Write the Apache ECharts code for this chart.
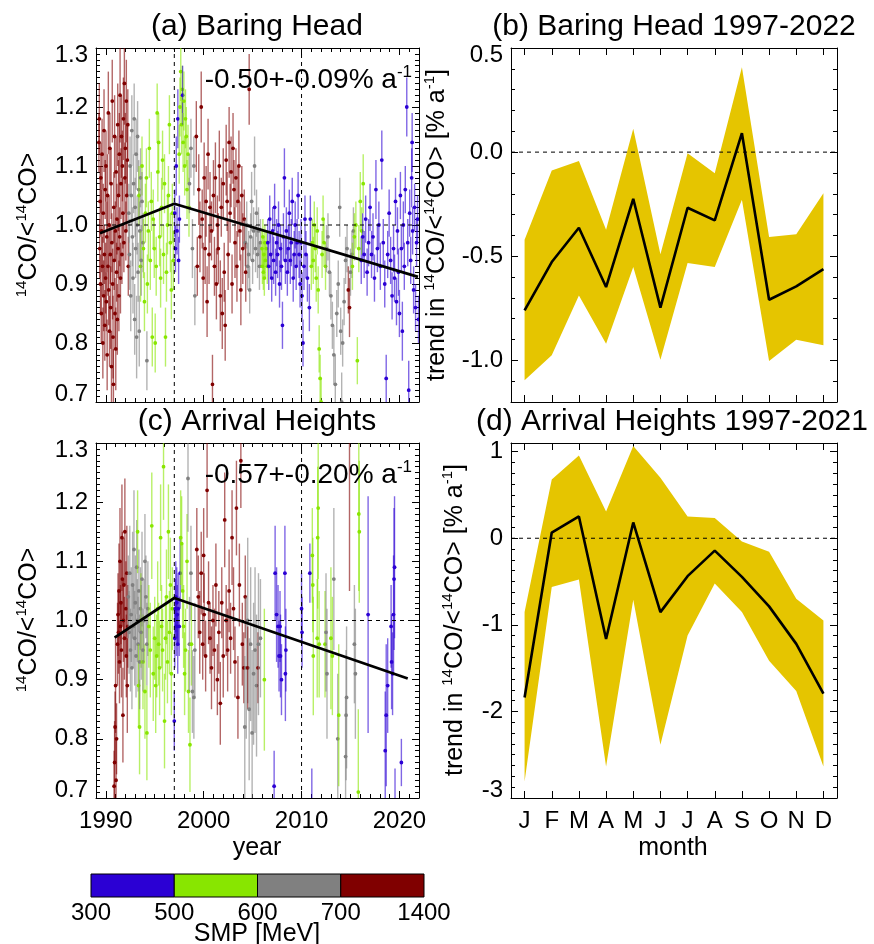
<!DOCTYPE html>
<html><head><meta charset="utf-8">
<script src="https://cdn.jsdelivr.net/npm/echarts@6/dist/echarts.min.js"></script>
<style>html,body{margin:0;padding:0;background:#fff}#c{width:874px;height:944px}</style>
</head><body><div id="c"></div>
<script>
// ---------- DATA ----------
const smpTicks = ['300', '500', '600', '700', '1400'];
const smpColors = ['#2b00d4', '#88e600', '#808080', '#800000']; // 300-500, 500-600, 600-700, 700-1400
const yearTicks = [1990, 2000, 2010, 2020];
const ratioTicks = [0.7, 0.8, 0.9, 1.0, 1.1, 1.2, 1.3];
const bhTrendTicks = [-1.0, -0.5, 0.0, 0.5];
const ahTrendTicks = [-3, -2, -1, 0, 1];
const months = ['J', 'F', 'M', 'A', 'M', 'J', 'J', 'A', 'S', 'O', 'N', 'D'];
const refYears = [1997, 2010];

// Baring Head: [year, ratio, error]
const bhBlue = [[1997.05,1.02,0.04],[1997.12,0.96,0.04],[1997.20,1.10,0.05],[1997.28,0.99,0.04],[1997.36,1.18,0.05],[1997.44,0.94,0.04],[1997.52,1.01,0.04],[1997.85,1.22,0.05],
 [2006.55,0.97,0.04],[2006.65,0.93,0.04],[2006.75,1.01,0.04],[2006.85,0.95,0.04],[2006.95,0.91,0.04],[2007.05,0.99,0.04],[2007.15,0.94,0.04],[2007.25,1.03,0.04],[2007.35,0.92,0.04],[2007.45,0.97,0.04],[2007.55,0.95,0.04],[2007.65,1.00,0.04],[2007.75,0.90,0.04],[2007.85,0.96,0.04],[2007.95,0.93,0.04],[2008.05,0.83,0.04],[2008.15,0.98,0.04],[2008.25,1.08,0.05],[2008.35,0.94,0.04],[2008.45,0.99,0.04],[2008.55,0.92,0.04],[2008.65,0.96,0.04],[2008.75,1.02,0.04],[2008.85,0.94,0.04],[2008.95,0.97,0.04],[2009.05,1.04,0.04],[2009.15,0.91,0.04],[2009.25,0.95,0.04],[2009.35,1.00,0.04],[2009.45,0.93,0.04],[2009.55,0.97,0.04],[2009.65,1.05,0.04],[2009.75,0.95,0.04],[2009.85,0.90,0.04],[2009.95,0.97,0.04],[2010.05,0.88,0.04],[2010.15,0.80,0.04],[2010.25,0.93,0.04],[2010.35,1.01,0.04],[2010.45,0.95,0.04],[2010.60,0.91,0.04],[2010.80,0.86,0.04],[2010.90,1.01,0.04],
 [2016.10,0.94,0.04],[2016.25,0.98,0.04],[2016.40,0.95,0.04],[2016.55,1.01,0.04],[2016.70,0.92,0.04],[2016.85,0.97,0.04],[2017.00,1.03,0.04],[2017.15,0.95,0.04],[2017.30,0.98,0.04],[2017.45,0.91,0.04],[2017.60,1.06,0.05],[2017.75,0.96,0.04],[2017.90,1.00,0.04],[2018.05,0.93,0.04],[2018.20,1.11,0.05],[2018.35,0.97,0.04],[2018.50,0.90,0.04],[2018.65,0.74,0.04],[2018.80,0.95,0.04],[2018.95,1.02,0.04],[2019.10,0.94,0.04],[2019.25,0.88,0.04],[2019.40,0.96,0.04],[2019.50,0.91,0.04],[2019.60,1.04,0.04],[2019.70,0.87,0.04],[2019.80,0.99,0.04],[2019.90,0.92,0.04],[2020.00,0.85,0.04],[2020.10,1.05,0.04],[2020.20,0.96,0.04],[2020.30,0.82,0.05],[2020.40,1.00,0.04],[2020.50,0.93,0.04],[2020.60,1.06,0.04],[2020.75,1.20,0.05],[2020.85,0.97,0.04],[2020.95,0.72,0.05],[2021.05,1.02,0.04],[2021.15,0.94,0.04],[2021.25,1.08,0.05],[2021.30,1.14,0.05],[2021.35,0.99,0.04],[2021.45,0.89,0.04],[2021.55,1.03,0.04],[2021.65,0.86,0.04],[2021.75,0.97,0.04],[2021.85,1.01,0.04],[2021.95,0.84,0.04]];
const bhGreen = [[1993.40,1.05,0.05],[1993.55,0.93,0.06],[1993.70,1.10,0.05],[1993.85,0.96,0.05],[1993.95,0.87,0.05],[1994.05,1.02,0.05],[1994.15,1.08,0.05],[1994.25,0.90,0.05],[1994.35,0.99,0.05],[1994.45,1.13,0.05],[1994.55,0.94,0.05],[1994.65,1.04,0.05],[1994.75,0.81,0.05],[1994.85,1.01,0.05],[1994.95,0.96,0.05],[1995.05,0.80,0.05],[1995.15,0.93,0.05],[1995.25,1.19,0.05],[1995.32,1.09,0.05],[1995.40,1.14,0.05],[1995.50,0.98,0.05],[1995.60,0.91,0.05],[1995.70,1.03,0.05],[1995.80,1.11,0.05],[1995.90,0.95,0.05],[1996.00,1.07,0.05],[1996.10,0.81,0.05],[1996.20,0.92,0.05],[1996.30,1.00,0.05],[1996.40,1.05,0.05],[1996.50,1.17,0.05],[1996.60,0.97,0.05],[1996.70,0.89,0.05],[1996.80,1.02,0.05],[1996.90,0.94,0.05],
 [1997.50,1.12,0.05],[1997.58,1.20,0.05],[1997.66,1.26,0.05],[1997.74,1.17,0.05],[1997.82,1.23,0.04],[1997.90,1.14,0.05],[1997.98,1.21,0.05],[1998.06,1.10,0.05],[1998.14,1.18,0.05],[1998.22,1.15,0.05],[1998.30,1.06,0.05],[1998.40,1.12,0.05],[1998.50,1.03,0.05],
 [2005.95,0.96,0.03],[2006.00,0.93,0.03],[2006.05,0.98,0.03],[2006.10,0.92,0.03],[2006.15,0.95,0.03],[2006.20,0.91,0.03],[2006.25,0.97,0.03],[2006.30,0.94,0.03],[2006.40,0.96,0.03],[2006.50,0.93,0.03],
 [2011.00,0.93,0.04],[2011.10,0.97,0.04],[2011.20,0.94,0.04],[2011.30,1.00,0.04],[2011.40,0.96,0.04],[2011.50,0.91,0.04],[2011.60,0.99,0.04],[2011.70,0.89,0.04],[2011.80,0.79,0.04],[2011.90,0.74,0.04],[2012.00,0.70,0.04],[2012.10,0.95,0.04],[2012.20,1.01,0.04],[2012.30,0.97,0.04],[2012.45,0.93,0.04],
 [2015.20,0.93,0.04],[2015.40,0.98,0.04],[2015.55,1.00,0.04],[2015.70,0.77,0.04],[2015.85,0.96,0.04],[2016.00,1.04,0.05],[2016.15,0.99,0.04],[2016.30,1.07,0.05]];
const bhGrey = [[1992.35,1.02,0.05],[1992.42,0.95,0.06],[1992.48,1.10,0.05],[1992.55,0.88,0.06],[1992.60,1.05,0.05],[1992.66,1.16,0.06],[1992.72,0.98,0.05],[1992.78,0.91,0.06],[1992.84,1.07,0.05],[1992.90,1.18,0.06],[1992.95,0.84,0.06],[1993.00,1.03,0.05],[1993.05,0.96,0.05],[1993.10,1.12,0.06],[1993.15,0.81,0.07],[1993.20,1.00,0.05],[1993.25,1.15,0.06],[1993.30,0.92,0.05],[1993.36,1.06,0.05],[1993.42,0.82,0.06],[1993.48,0.99,0.05],[1993.55,1.08,0.05],[1993.62,0.94,0.06],[1993.70,1.04,0.05],[1993.80,0.97,0.05],[1994.20,0.77,0.05],
 [1998.55,1.07,0.05],[1998.70,1.13,0.05],[1998.85,0.96,0.05],[1999.00,1.10,0.05],[1999.10,0.88,0.05],
 [2004.25,0.97,0.04],[2004.40,1.00,0.04],[2004.50,0.93,0.04],[2004.60,0.95,0.04],[2004.70,0.89,0.04],[2004.80,0.98,0.04],[2004.90,1.04,0.05],[2005.00,0.94,0.04],[2005.10,0.99,0.04],[2005.20,1.10,0.05],[2005.30,0.96,0.04],[2005.40,1.02,0.04],[2005.50,0.95,0.04],[2005.60,0.99,0.04],[2005.70,0.93,0.04],[2005.80,0.97,0.04],
 [2012.55,0.96,0.04],[2012.70,0.98,0.04],[2012.85,0.92,0.04],[2013.00,0.88,0.04],[2013.15,0.83,0.04],[2013.30,0.78,0.05],[2013.45,0.73,0.05],[2013.60,0.85,0.04],[2013.75,0.90,0.04],[2013.90,1.03,0.05],[2014.00,0.82,0.04],[2014.10,0.70,0.05],[2014.20,0.80,0.04],[2014.35,0.87,0.04],[2014.50,0.94,0.04],[2014.65,0.96,0.04],[2015.00,0.92,0.04],[2015.15,0.95,0.04],[2015.30,0.99,0.04]];
const bhRed = [[1989.30,1.14,0.05],[1989.34,1.18,0.06],[1989.38,0.96,0.05],[1989.42,1.04,0.06],[1989.46,0.90,0.05],[1989.50,1.08,0.06],[1989.54,0.85,0.05],[1989.58,0.99,0.07],[1989.62,1.12,0.06],[1989.66,0.93,0.05],[1989.70,0.80,0.06],[1989.74,1.02,0.05],[1989.78,0.88,0.06],[1989.82,1.16,0.07],[1989.86,0.95,0.05],[1989.90,0.83,0.06],[1989.94,1.06,0.05],[1989.98,0.91,0.06],[1990.02,1.10,0.06],[1990.06,0.87,0.05],[1990.10,0.98,0.06],[1990.14,0.78,0.06],[1990.18,1.05,0.07],[1990.22,0.93,0.05],[1990.26,1.19,0.07],[1990.30,0.89,0.06],[1990.34,1.00,0.05],[1990.38,0.82,0.06],[1990.42,1.13,0.06],[1990.46,0.95,0.05],[1990.50,0.86,0.07],[1990.54,1.07,0.06],[1990.58,0.76,0.06],[1990.62,0.97,0.05],[1990.66,1.21,0.07],[1990.70,0.90,0.06],[1990.74,0.81,0.07],[1990.78,0.73,0.06],[1990.82,1.03,0.06],[1990.86,0.94,0.05],[1990.90,1.15,0.07],[1990.94,0.85,0.06],[1990.98,0.99,0.05],[1991.02,0.79,0.07],[1991.06,1.09,0.06],[1991.10,0.92,0.05],[1991.14,1.01,0.06],[1991.18,0.84,0.06],[1991.22,1.17,0.07],[1991.26,0.96,0.05],[1991.30,1.05,0.06],[1991.34,0.88,0.06],[1991.38,1.12,0.07],[1991.42,0.98,0.05],[1991.46,1.22,0.08],[1991.50,0.91,0.06],[1991.55,1.07,0.06],[1991.60,1.15,0.07],[1991.65,0.95,0.05],[1991.70,1.10,0.06],[1991.75,1.02,0.06],[1991.80,1.18,0.07],[1991.85,0.97,0.05],[1991.90,1.24,0.07],[1991.95,1.08,0.06],[1992.00,1.13,0.06],[1992.05,0.99,0.05],[1992.10,1.21,0.07],[1992.15,1.05,0.06],[1992.20,1.11,0.06],[1992.25,1.17,0.06],[1992.30,0.93,0.05],
 [1999.25,1.15,0.06],[1999.35,0.93,0.05],[1999.50,1.06,0.06],[1999.62,0.98,0.06],[1999.75,1.20,0.06],[1999.85,1.01,0.05],[1999.95,0.91,0.06],[2000.05,1.08,0.06],[2000.15,0.96,0.06],[2000.25,1.04,0.06],[2000.35,0.87,0.06],[2000.45,1.12,0.06],[2000.55,0.95,0.05],[2000.65,1.03,0.06],[2000.80,0.99,0.05],[2000.90,0.73,0.05],[2001.00,1.05,0.06],[2001.10,0.93,0.05],[2001.20,1.08,0.06],[2001.30,0.90,0.06],[2001.40,1.00,0.05],[2001.50,0.96,0.06],[2001.60,1.10,0.06],[2001.70,0.88,0.06],[2001.80,1.03,0.05],[2001.90,0.85,0.06],[2002.00,1.07,0.06],[2002.10,0.92,0.05],[2002.20,0.83,0.06],[2002.30,1.11,0.06],[2002.40,1.04,0.05],[2002.50,0.95,0.06],[2002.60,1.14,0.06],[2002.70,1.02,0.05],[2002.80,1.09,0.06],[2002.90,0.90,0.05],[2003.00,1.13,0.06],[2003.10,1.06,0.05],[2003.20,0.97,0.06],[2003.30,1.08,0.05],[2003.40,0.93,0.06],[2003.50,1.04,0.06],[2003.60,1.10,0.06],[2003.70,0.99,0.05],[2003.80,0.89,0.06],[2003.90,1.05,0.05],[2004.00,0.96,0.06],[2004.15,1.01,0.05],[2004.30,0.92,0.05],[2004.65,1.23,0.06],
 [2014.78,0.89,0.04],[2014.90,0.86,0.05]];

// Arrival Heights: [year, ratio, error]
const ahBlue = [[1997.00,0.83,0.05],[1997.05,0.97,0.05],[1997.10,1.02,0.05],[1997.15,1.04,0.06],[1997.20,0.99,0.05],[1997.25,1.03,0.06],[1997.30,1.01,0.05],[1997.35,0.96,0.05],[1997.40,1.02,0.06],[1997.50,0.99,0.05],[1997.60,1.08,0.06],
 [2007.20,0.72,0.06],[2007.30,1.08,0.08],[2007.45,1.01,0.08],[2007.60,0.99,0.07],[2007.70,0.94,0.06],[2007.80,0.99,0.06],[2007.85,0.94,0.07],[2007.95,0.90,0.06],[2008.30,1.08,0.08],[2008.35,0.91,0.08],[2008.40,0.95,0.07],[2010.00,1.02,0.06],[2010.05,0.98,0.06],[2010.85,1.08,0.05],[2011.05,0.66,0.09],
 [2016.80,1.01,0.20],[2018.55,0.78,0.10],[2018.65,0.84,0.12],[2018.80,0.89,0.08],[2019.15,0.99,0.07],[2019.20,0.93,0.08],[2019.30,0.91,0.07],[2019.40,1.01,0.10],[2019.45,1.07,0.12],[2019.50,1.09,0.12],[2019.55,0.69,0.06],[2020.20,0.76,0.04]];
const ahGreen = [[1993.25,1.15,0.07],[1993.35,0.89,0.07],[1993.45,0.82,0.08],[1993.60,1.00,0.08],[1993.80,0.93,0.08],[1994.00,0.88,0.08],[1994.20,0.81,0.08],[1994.40,0.99,0.07],[1994.55,0.95,0.08],[1994.70,1.16,0.09],[1994.85,0.91,0.08],[1995.00,0.97,0.07],[1995.10,0.89,0.08],[1995.20,0.94,0.07],[1995.30,1.02,0.08],[1995.40,0.96,0.07],[1995.50,0.92,0.08],[1995.60,1.14,0.09],[1995.70,0.99,0.07],[1995.80,0.95,0.07],[1995.90,1.26,0.09],[1996.00,0.83,0.08],[1996.10,0.97,0.07],[1996.20,1.04,0.08],[1996.30,0.93,0.07],[1996.40,1.15,0.08],[1996.50,0.98,0.07],[1996.60,1.06,0.08],[1996.70,0.91,0.07],[1996.80,1.02,0.07],
 [1997.65,1.14,0.08],[1997.75,1.13,0.08],[1997.85,1.05,0.08],[1997.95,0.99,0.07],[1998.05,0.91,0.07],[1998.15,0.95,0.07],[1998.30,1.10,0.08],[1998.45,0.88,0.07],[1998.60,0.79,0.08],[1998.75,0.96,0.07],
 [2006.20,0.90,0.12],
 [2011.10,1.11,0.08],[2011.15,1.06,0.08],[2011.20,0.94,0.10],[2011.60,0.97,0.10],[2011.65,1.14,0.12],[2011.70,1.19,0.12],[2011.80,0.96,0.09],[2012.40,0.96,0.09],[2013.00,0.97,0.12],[2013.15,0.94,0.10],[2013.80,0.84,0.12],[2015.80,0.71,0.14],[2015.85,1.18,0.13],[2015.90,1.15,0.12]];
const ahGrey = [[1992.30,1.04,0.07],[1992.38,0.98,0.07],[1992.45,1.08,0.08],[1992.52,0.95,0.07],[1992.60,1.01,0.08],[1992.67,0.92,0.07],[1992.74,1.06,0.09],[1992.81,0.99,0.07],[1992.88,1.12,0.10],[1992.95,0.97,0.08],[1993.02,1.03,0.08],[1993.09,0.94,0.07],[1993.16,1.09,0.08],[1993.23,1.00,0.07],[1993.30,0.96,0.08],[1993.38,1.05,0.07],[1993.46,0.93,0.08],[1993.54,1.02,0.07],[1993.62,0.98,0.08],[1993.70,1.07,0.08],[1993.80,0.95,0.07],[1993.90,1.00,0.07],[1994.00,1.10,0.08],[1994.10,1.04,0.07],[1994.20,0.96,0.07],[1994.30,1.02,0.08],
 [1998.40,1.24,0.09],[1998.55,0.96,0.08],[1998.70,1.08,0.08],[1998.85,0.88,0.07],[1999.00,0.87,0.07],[1999.10,0.95,0.08],
 [2004.20,0.82,0.12],[2004.35,0.92,0.12],[2004.50,1.00,0.14],[2004.65,0.85,0.12],[2004.80,0.96,0.13],[2004.95,0.81,0.14],[2005.10,0.91,0.12],[2005.25,0.95,0.14],[2005.40,0.89,0.12],[2005.60,0.96,0.12],[2005.80,0.97,0.10],
 [2012.50,0.98,0.10],[2012.60,0.91,0.11],[2013.30,1.07,0.12],[2013.70,0.80,0.11],[2014.50,0.77,0.10],[2014.55,0.84,0.11],[2014.60,0.87,0.12],[2015.40,0.96,0.10],[2015.50,0.91,0.11]];
const ahRed = [[1990.85,0.72,0.06],[1990.90,0.76,0.07],[1990.95,0.82,0.06],[1991.00,0.89,0.08],[1991.05,0.73,0.07],[1991.10,0.80,0.06],[1991.20,0.96,0.07],[1991.25,1.01,0.07],[1991.30,0.98,0.07],[1991.35,1.05,0.08],[1991.40,0.93,0.07],[1991.45,1.10,0.09],[1991.50,0.99,0.07],[1991.55,1.03,0.07],[1991.60,0.95,0.08],[1991.65,1.14,0.09],[1991.70,1.07,0.08],[1991.75,0.84,0.08],[1991.80,1.00,0.07],[1991.85,1.06,0.08],[1991.90,0.97,0.07],[1991.95,1.15,0.09],[2000.00,1.11,0.08],
 [1992.05,1.02,0.08],[1992.10,0.94,0.07],[1992.15,1.08,0.08],[1992.20,0.89,0.08],[1992.25,0.99,0.07],
 [1999.30,1.12,0.07],[1999.45,1.04,0.07],[1999.60,0.98,0.07],[1999.75,1.08,0.07],[1999.90,0.96,0.06],[2000.05,1.01,0.07],[2000.20,0.94,0.06],[2000.35,1.22,0.08],[2000.50,1.03,0.07],[2000.65,0.97,0.06],[2000.80,0.92,0.07],[2000.95,1.00,0.06],[2001.10,0.95,0.07],[2001.25,1.06,0.07],[2001.40,0.90,0.06],[2001.55,0.98,0.07],[2001.70,0.86,0.07],[2001.85,1.03,0.06],[2002.00,0.94,0.07],[2002.15,1.17,0.08],[2002.30,1.00,0.06],[2002.45,0.95,0.07],[2002.60,1.05,0.07],[2002.75,0.97,0.06],[2002.90,1.14,0.08],[2003.05,1.02,0.07],[2003.20,0.93,0.06],[2003.35,1.19,0.08],[2003.50,0.87,0.07],[2003.65,1.06,0.07],[2003.80,1.27,0.08],[2003.95,0.96,0.07],[2004.10,0.92,0.06],[2004.25,1.04,0.07],[2004.50,0.92,0.07],[2005.55,0.92,0.06],
 [2014.90,1.40,0.35]];

// Trend lines (year, ratio)
const bhTrend = [[1989.4, 0.986], [1997.0, 1.036], [2021.9, 0.912]];
const ahTrend = [[1990.9, 0.971], [1997.0, 1.038], [2020.85, 0.902]];

// Monthly trends [% a-1]
const bhMonthMean  = [-0.76, -0.528, -0.363, -0.648, -0.224, -0.747, -0.267, -0.328, 0.091, -0.709, -0.645, -0.562];
const bhMonthUpper = [-0.421, -0.088, -0.043, -0.373, 0.112, -0.491, -0.005, -0.101, 0.408, -0.408, -0.395, -0.197];
const bhMonthLower = [-1.096, -0.976, -0.688, -0.92, -0.552, -0.997, -0.533, -0.552, -0.229, -1.003, -0.901, -0.928];
const ahMonthMean  = [-1.84, 0.066, 0.252, -1.163, 0.182, -0.853, -0.438, -0.143, -0.446, -0.787, -1.22, -1.795];
const ahMonthUpper = [-0.853, 0.678, 0.957, 0.31, 1.066, 0.698, 0.252, 0.233, -0.039, -0.155, -0.698, -0.95];
const ahMonthLower = [-2.81, -0.562, -0.477, -2.636, -0.709, -2.384, -1.124, -0.523, -0.853, -1.415, -1.764, -2.636];

// ---------- CHART ----------
const FONT = '"Liberation Sans", Arial, Helvetica, sans-serif';
const TICKFS = 24;
const chart = echarts.init(document.getElementById('c'), null, {renderer: 'canvas'});

const grids = [
  {left: 96, top: 48, width: 323, height: 354},
  {left: 511, top: 48, width: 326, height: 354},
  {left: 96, top: 443, width: 323, height: 355},
  {left: 511, top: 443, width: 326, height: 355},
  {left: 91, top: 874, width: 333, height: 23}
];

function steps(a, b, s) { const r = []; const n = Math.round((b - a) / s); for (let i = 0; i <= n; i++) r.push(+(a + i * s).toFixed(5)); return r; }

const richClamp = {
  t: {padding: [15, 0, 0, 0], fontSize: TICKFS, fontFamily: FONT, color: '#000'},
  b: {padding: [0, 0, 15, 0], fontSize: TICKFS, fontFamily: FONT, color: '#000'}
};

function xAxes(gi, min, max, major, minor, labelFmt) {
  const base = {type: 'value', gridIndex: gi, min: min, max: max, splitLine: {show: false}};
  const line = {show: true, onZero: false, lineStyle: {color: '#000', width: 1}};
  return [
    Object.assign({}, base, {position: 'bottom', axisLine: line,
      axisTick: {show: true, inside: true, length: 7, customValues: major, lineStyle: {color: '#000'}},
      axisLabel: labelFmt ? {show: true, customValues: major, formatter: labelFmt, fontSize: TICKFS, fontFamily: FONT, color: '#000', margin: 11} : {show: false}}),
    Object.assign({}, base, {position: 'bottom', axisLine: {show: false},
      axisTick: {show: minor.length > 0, inside: true, length: 4, customValues: minor, lineStyle: {color: '#000'}}, axisLabel: {show: false}}),
    Object.assign({}, base, {position: 'top', axisLine: line,
      axisTick: {show: true, inside: true, length: 7, customValues: major, lineStyle: {color: '#000'}}, axisLabel: {show: false}}),
    Object.assign({}, base, {position: 'top', axisLine: {show: false},
      axisTick: {show: minor.length > 0, inside: true, length: 4, customValues: minor, lineStyle: {color: '#000'}}, axisLabel: {show: false}})
  ];
}
function yAxes(gi, min, max, major, minor, labelFmt) {
  const base = {type: 'value', gridIndex: gi, min: min, max: max, splitLine: {show: false}};
  const line = {show: true, onZero: false, lineStyle: {color: '#000', width: 1}};
  return [
    Object.assign({}, base, {position: 'left', axisLine: line,
      axisTick: {show: true, inside: true, length: 7, customValues: major, lineStyle: {color: '#000'}},
      axisLabel: {show: true, customValues: major, formatter: labelFmt, fontSize: TICKFS, fontFamily: FONT, color: '#000', margin: 8, rich: richClamp}}),
    Object.assign({}, base, {position: 'left', axisLine: {show: false},
      axisTick: {show: true, inside: true, length: 4, customValues: minor, lineStyle: {color: '#000'}}, axisLabel: {show: false}}),
    Object.assign({}, base, {position: 'right', axisLine: line,
      axisTick: {show: true, inside: true, length: 7, customValues: major, lineStyle: {color: '#000'}}, axisLabel: {show: false}}),
    Object.assign({}, base, {position: 'right', axisLine: {show: false},
      axisTick: {show: true, inside: true, length: 4, customValues: minor, lineStyle: {color: '#000'}}, axisLabel: {show: false}})
  ];
}

const yearMinor = steps(1989, 2022, 1);
const monthIdx = months.map((m, i) => i + 1);
function ratioFmt(v) { if (Math.abs(v - 1.3) < 1e-6) return '{t|1.3}'; if (Math.abs(v - 0.7) < 1e-6) return '{b|0.7}'; return v.toFixed(1); }
function bhFmt(v) { if (Math.abs(v - 0.5) < 1e-6) return '{t|0.5}'; return v.toFixed(1); }
function ahFmt(v) { if (Math.abs(v + 3) < 1e-6) return '{b|-3}'; return String(Math.round(v)); }

const xAxis = [].concat(
  xAxes(0, 1989, 2022, yearTicks, yearMinor, null),
  xAxes(1, 0.5, 12.5, monthIdx, [], null),
  xAxes(2, 1989, 2022, yearTicks, yearMinor, v => String(v)),
  xAxes(3, 0.5, 12.5, monthIdx, [], v => months[Math.round(v) - 1]),
  [{type: 'value', gridIndex: 4, min: 0, max: 4, position: 'bottom', splitLine: {show: false}, axisLine: {show: false}, axisTick: {show: false},
    axisLabel: {show: true, customValues: [0, 1, 2, 3, 4], formatter: v => smpTicks[Math.round(v)], fontSize: TICKFS, fontFamily: FONT, color: '#000', margin: 4}}]
);
const yAxis = [].concat(
  yAxes(0, 0.7, 1.3, ratioTicks, steps(0.7, 1.3, 0.01), ratioFmt),
  yAxes(1, -1.2, 0.5, bhTrendTicks, steps(-1.2, 0.5, 0.1), bhFmt),
  yAxes(2, 0.7, 1.3, ratioTicks, steps(0.7, 1.3, 0.01), ratioFmt),
  yAxes(3, -3, 1.1, ahTrendTicks, steps(-3, 1.0, 0.125), ahFmt),
  [{type: 'value', gridIndex: 4, min: 0, max: 1, show: false}]
);

function combine(groups) {
  const out = [];
  groups.forEach((g, ci) => g.forEach(p => out.push([p[0], p[1], p[2], ci])));
  out.sort((a, b) => a[0] - b[0]);
  return out;
}
function errRender(params, api) {
  const x = api.value(0), y = api.value(1), e = api.value(2), ci = api.value(3);
  const c = smpColors[ci];
  const p = api.coord([x, y]), t = api.coord([x, y + e]), b = api.coord([x, y - e]);
  return {type: 'group', children: [
    {type: 'line', shape: {x1: p[0], y1: t[1], x2: p[0], y2: b[1]}, style: {stroke: c, lineWidth: 1.4, opacity: 0.6}},
    {type: 'circle', shape: {cx: p[0], cy: p[1], r: 1.9}, style: {fill: c}}
  ]};
}
function pointSeries(gi, groups) {
  return {type: 'custom', xAxisIndex: gi * 4, yAxisIndex: gi * 4, clip: true, silent: true, z: 2,
    renderItem: errRender, encode: {x: 0, y: 1}, data: combine(groups)};
}
function dashed(gi, pts) {
  return {type: 'line', xAxisIndex: gi * 4, yAxisIndex: gi * 4, data: pts, symbol: 'none', silent: true, z: 3,
    lineStyle: {color: '#000', width: 1, type: [4, 4]}};
}
function solid(gi, pts, w) {
  return {type: 'line', xAxisIndex: gi * 4, yAxisIndex: gi * 4, data: pts, symbol: 'none', silent: true, z: 4,
    lineStyle: {color: '#000', width: w}};
}
function bandSeries(gi, up, lo) {
  return {type: 'custom', xAxisIndex: gi * 4, yAxisIndex: gi * 4, clip: true, silent: true, z: 1,
    data: up.map((u, i) => [i + 1, u, lo[i]]), encode: {x: 0, y: 1},
    renderItem: function (params, api) {
      if (params.dataIndex !== 0) return null;
      const pts = [];
      up.forEach((u, i) => pts.push(api.coord([i + 1, u])));
      for (let i = lo.length - 1; i >= 0; i--) pts.push(api.coord([i + 1, lo[i]]));
      return {type: 'polygon', shape: {points: pts}, style: {fill: '#e5c500'}};
    }};
}

const series = [
  pointSeries(0, [bhBlue, bhGreen, bhGrey, bhRed]),
  dashed(0, [[1989, 1], [2022, 1]]),
  dashed(0, [[refYears[0], 0.7], [refYears[0], 1.3]]),
  dashed(0, [[refYears[1], 0.7], [refYears[1], 1.3]]),
  solid(0, bhTrend, 2.8),
  pointSeries(2, [ahBlue, ahGreen, ahGrey, ahRed]),
  dashed(2, [[1989, 1], [2022, 1]]),
  dashed(2, [[refYears[0], 0.7], [refYears[0], 1.3]]),
  dashed(2, [[refYears[1], 0.7], [refYears[1], 1.3]]),
  solid(2, ahTrend, 2.8),
  bandSeries(1, bhMonthUpper, bhMonthLower),
  dashed(1, [[0.5, 0], [12.5, 0]]),
  solid(1, bhMonthMean.map((v, i) => [i + 1, v]), 2.6),
  bandSeries(3, ahMonthUpper, ahMonthLower),
  dashed(3, [[0.5, 0], [12.5, 0]]),
  solid(3, ahMonthMean.map((v, i) => [i + 1, v]), 2.6),
  {type: 'custom', xAxisIndex: 16, yAxisIndex: 16, silent: true, encode: {x: 0},
    data: smpColors.map((c, i) => [i, i + 1]),
    renderItem: function (params, api) {
      const a = api.coord([api.value(0), 1]), b = api.coord([api.value(1), 0]);
      return {type: 'rect', shape: {x: a[0], y: a[1], width: b[0] - a[0], height: b[1] - a[1]},
        style: {fill: smpColors[params.dataIndex], stroke: '#000', lineWidth: 1}};
    }}
];

function txt(x, y, text, fs, opts) {
  return {type: 'text', x: x, y: y, silent: true, z: 100,
    style: Object.assign({text: text, fontSize: fs, fontFamily: FONT, fill: '#000', align: 'center', verticalAlign: 'middle'}, opts || {})};
}
const supRich = {
  n: {fontSize: 25, fontFamily: FONT, lineHeight: 30, verticalAlign: 'middle'},
  s: {fontSize: 15, fontFamily: FONT, lineHeight: 17, verticalAlign: 'top'}
};
const annRich = {
  n: {fontSize: 28, fontFamily: FONT, lineHeight: 32, verticalAlign: 'middle'},
  s: {fontSize: 17, fontFamily: FONT, lineHeight: 18, verticalAlign: 'top'}
};
function rot(x, y, text) {
  return {type: 'text', x: x, y: y, rotation: Math.PI / 2, silent: true, z: 100,
    style: {text: text, rich: supRich, fontFamily: FONT, fontSize: 25, fill: '#000', align: 'center', verticalAlign: 'middle'}};
}

const graphic = [
  txt(257, 27, '(a) Baring Head', 30),
  txt(674, 27, '(b) Baring Head 1997-2022', 30),
  txt(257, 422, '(c) Arrival Heights', 30),
  txt(672, 422, '(d) Arrival Heights 1997-2021', 30),
  {type: 'text', x: 412, y: 80, silent: true, z: 100, style: {text: '{n|-0.50+-0.09% a}{s|-1}', rich: annRich, fill: '#000', align: 'right', verticalAlign: 'middle'}},
  {type: 'text', x: 412, y: 475, silent: true, z: 100, style: {text: '{n|-0.57+-0.20% a}{s|-1}', rich: annRich, fill: '#000', align: 'right', verticalAlign: 'middle'}},
  rot(29, 225, '{s|14}{n|CO/<}{s|14}{n|CO>}'),
  rot(29, 620, '{s|14}{n|CO/<}{s|14}{n|CO>}'),
  rot(437, 225, '{n|trend in }{s|14}{n|CO/<}{s|14}{n|CO> [% a}{s|-1}{n|]}'),
  rot(455, 620, '{n|trend in }{s|14}{n|CO/<}{s|14}{n|CO> [% a}{s|-1}{n|]}'),
  txt(257, 848, 'year', 25),
  txt(673, 848, 'month', 25),
  txt(257, 934, 'SMP [MeV]', 25)
];

chart.setOption({
  animation: false,
  backgroundColor: '#fff',
  grid: grids.map(g => Object.assign({containLabel: false}, g)),
  xAxis: xAxis,
  yAxis: yAxis,
  series: series,
  graphic: graphic
});
</script>
</body></html>
